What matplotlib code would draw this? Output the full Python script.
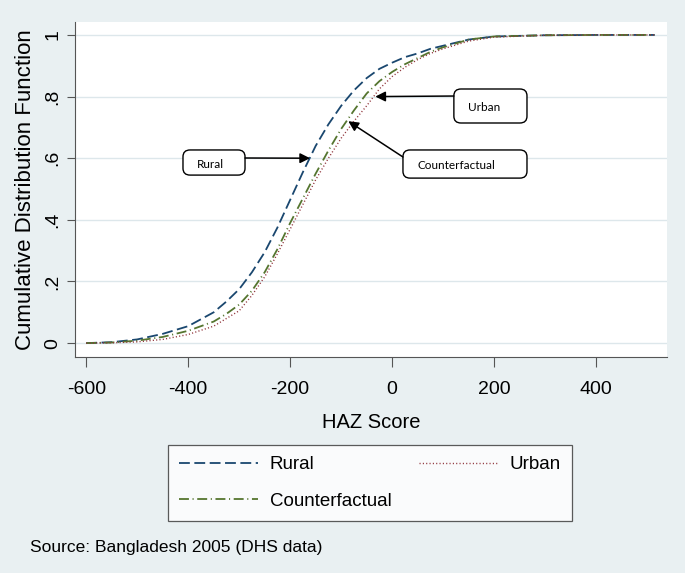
"""Cumulative distribution of HAZ scores: rural, urban and counterfactual."""

import matplotlib

matplotlib.use("Agg")
import matplotlib.pyplot as plt  # noqa: E402
from matplotlib.patches import FancyBboxPatch  # noqa: E402

# HAZ score grid and the three CDFs
haz = [-600, -550, -500, -450, -400, -350, -325, -300, -275, -250, -225, -200,
       -175, -150, -125, -100, -75, -50, -25, 0, 25, 50, 75, 100, 150, 200,
       300, 400, 515]
rural = [0.0, 0.003, 0.012, 0.03, 0.055, 0.10, 0.135, 0.175, 0.23, 0.295,
         0.375, 0.465, 0.555, 0.64, 0.71, 0.77, 0.82, 0.86, 0.89, 0.91,
         0.928, 0.94, 0.955, 0.965, 0.985, 0.995, 0.999, 1.0, 1.0]
counterfactual = [0.0, 0.002, 0.008, 0.02, 0.04, 0.07, 0.095, 0.125, 0.17,
                  0.23, 0.305, 0.39, 0.47, 0.55, 0.625, 0.695, 0.755, 0.81,
                  0.85, 0.88, 0.905, 0.925, 0.945, 0.96, 0.985, 0.995, 0.999,
                  1.0, 1.0]
urban = [0.0, 0.001, 0.004, 0.012, 0.028, 0.055, 0.08, 0.105, 0.155, 0.215,
         0.29, 0.37, 0.45, 0.53, 0.60, 0.665, 0.72, 0.77, 0.825, 0.865,
         0.895, 0.92, 0.94, 0.955, 0.98, 0.993, 0.999, 1.0, 1.0]

x_ticks = [-600, -400, -200, 0, 200, 400]
y_ticks = [0, 0.2, 0.4, 0.6, 0.8, 1.0]
y_tick_labels = ["0", ".2", ".4", ".6", ".8", "1"]

# (label, arrow tip x, arrow tip y)
callouts = [("Rural", -161, 0.60), ("Urban", -33, 0.80),
            ("Counterfactual", -86, 0.72)]

NAVY = "#1a476f"
MAROON = "#90353b"
GREEN = "#55752f"
BG = "#e9f0f2"
FONT = ["Liberation Sans", "DejaVu Sans"]


def main() -> None:
    plt.rcParams["font.family"] = FONT
    plt.rcParams["axes.unicode_minus"] = False
    fig = plt.figure(figsize=(6.85, 5.73), dpi=100, facecolor=BG)
    ax = fig.add_axes([0.1095, 0.377, 0.8642, 0.5846])
    ax.set_facecolor("white")

    ax.plot(haz, rural, color=NAVY, lw=1.3, dashes=(6.0, 2.5), label="Rural")
    ax.plot(haz, counterfactual, color=GREEN, lw=1.3,
            dashes=(5.5, 2.0, 0.6, 2.0), label="Counterfactual")
    ax.plot(haz, urban, color=MAROON, lw=1.0, dashes=(0.8, 1.6),
            label="Urban")

    ax.set_xlim(-622, 539)
    ax.set_ylim(-0.045, 1.042)
    ax.set_xticks(x_ticks)
    ax.set_yticks(y_ticks)
    ax.set_yticklabels(y_tick_labels, rotation=90, va="center", fontsize=14)
    ax.tick_params(axis="x", labelsize=14, length=7, color="#555555", pad=10)
    ax.tick_params(axis="y", length=6, color="#555555", pad=4)
    ax.grid(axis="y", color="#dde7eb", lw=1.0)
    ax.set_axisbelow(True)
    for side in ("top", "right"):
        ax.spines[side].set_visible(False)
    for side in ("left", "bottom"):
        ax.spines[side].set_color("#555555")

    ax.set_xlabel("HAZ Score", fontsize=14.5, labelpad=11)
    ax.set_ylabel("Cumulative Distribution Function", fontsize=16,
                  labelpad=6)

    # callout boxes (axes fraction) with arrows to the curves
    boxes = {"Rural": (0.1824, 0.543, 0.1048, 0.075),
             "Urban": (0.640, 0.6985, 0.1235, 0.1015),
             "Counterfactual": (0.554, 0.534, 0.2095, 0.084)}
    starts = {"Rural": (0.2872, 0.594), "Urban": (0.640, 0.779),
              "Counterfactual": (0.554, 0.597)}
    for label, tx, ty in callouts:
        bx, by, bw, bh = boxes[label]
        ax.add_patch(FancyBboxPatch((bx, by), bw, bh,
                                    boxstyle="round,pad=0,rounding_size=0.012",
                                    mutation_aspect=1.7,
                                    transform=ax.transAxes, fc="white",
                                    ec="black", lw=1.0, zorder=5))
        ax.text(bx + 0.024, by + bh / 2 - 0.005, label,
                transform=ax.transAxes, fontsize=8.5, va="center",
                family=["Lato", "DejaVu Sans"], zorder=6)
        ax.annotate("", xy=(tx, ty), xycoords="data",
                    xytext=starts[label], textcoords="axes fraction",
                    arrowprops=dict(arrowstyle="-|>", color="black", lw=1.1,
                                    mutation_scale=15, shrinkA=0, shrinkB=0),
                    zorder=6)

    handles, labels = ax.get_legend_handles_labels()
    leg = fig.legend(handles, labels, ncol=2, loc="center",
                     bbox_to_anchor=(0.540, 0.157), fontsize=13.5,
                     frameon=True, fancybox=False, edgecolor="#333333",
                     handlelength=4.2, handletextpad=0.64,
                     columnspacing=1.45, labelspacing=1.05, borderpad=0.58)
    leg.get_frame().set_linewidth(0.9)
    leg.get_frame().set_facecolor("white")

    fig.text(0.044, 0.044, "Source: Bangladesh 2005 (DHS data)",
             fontsize=12.5, va="center", ha="left")

    fig.savefig("out.png", dpi=100, facecolor=BG)


if __name__ == "__main__":
    main()
